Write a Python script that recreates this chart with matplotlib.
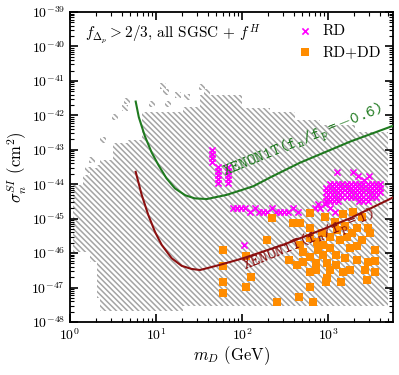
import matplotlib.pyplot as plt
from matplotlib.ticker import LogLocator, NullFormatter

plt.rcParams['mathtext.fontset'] = 'cm'
plt.rcParams['font.family'] = 'serif'
plt.rcParams['font.serif'] = ['cmr10']
plt.rcParams['axes.unicode_minus'] = False
plt.rcParams['axes.formatter.use_mathtext'] = True
plt.rcParams['hatch.linewidth'] = 1.1
# typewriter font for the limit labels (used through math_fontfamily='custom')
plt.rcParams['mathtext.rm'] = 'cmtt10'
plt.rcParams['mathtext.it'] = 'cmtt10'
plt.rcParams['mathtext.tt'] = 'cmtt10'

# scanned region (log10 m, log10 sigma), drawn as hatched columns
scan_logm_edges = [0.035, 0.151, 0.233, 0.314, 0.349, 0.50, 0.674, 0.837,
                   1.314, 1.512, 2.0, 2.326, 2.616, 2.907, 3.314, 3.698]
scan_logsig_top = [-44.02, -43.73, -43.53, -43.44, -43.30, -42.80, -42.72,
                   -41.90, -41.76, -41.41, -41.79, -41.90, -42.13, -42.28, -42.48]
scan_logsig_bot = [-45.97, -45.97, -46.26, -47.30, -47.68, -47.68, -47.68,
                   -47.68, -47.54, -47.54, -47.54, -47.54, -47.54, -47.54, -47.54]

# isolated scan cells above the main region
cell_logm = [1.081, 1.116, 1.256, 1.360, 0.663, 0.640, 0.953, 1.140,
             0.523, 0.384, 0.256, 0.209, 1.535, 1.593]
cell_logsig = [-41.15, -41.32, -41.41, -41.47, -41.58, -41.79, -41.67, -41.67,
               -42.05, -42.72, -43.30, -43.59, -41.18, -41.32]

# XENON1T limits
xe06_logm = [0.764, 0.80, 0.87, 0.95, 1.03, 1.12, 1.22, 1.34, 1.45, 1.59,
             1.82, 2.13, 2.33, 2.67, 3.26, 3.75]
xe06_logsig = [-41.60, -42.05, -42.60, -43.08, -43.45, -43.82, -44.12, -44.32,
               -44.41, -44.43, -44.31, -44.06, -43.80, -43.38, -42.76, -42.31]
xe1_logm = [0.764, 0.834, 0.910, 0.988, 1.066, 1.183, 1.299, 1.415, 1.512,
            1.744, 2.012, 2.477, 2.869, 3.256, 3.752]
xe1_logsig = [-43.64, -44.31, -44.89, -45.38, -45.76, -46.15, -46.37, -46.46,
              -46.49, -46.34, -46.15, -45.76, -45.38, -44.99, -44.39]

# RD points
rd_logm = ([1.651] * 4 + [1.721] * 5 + [1.843] * 5
           + [1.895, 1.942, 1.988, 2.035, 2.151, 2.349, 2.593, 2.849, 2.907, 3.023]
           + [2.093, 2.198, 2.244, 2.291, 2.395, 2.442, 2.488, 2.535, 2.651, 3.081]
           + [2.965, 2.884]
           + [3.023, 3.070, 3.116, 3.163, 3.221, 3.267, 3.314, 3.360, 3.407, 3.465, 3.512, 3.558, 3.605]
           + [2.977, 3.023, 3.070, 3.116, 3.163, 3.221, 3.267, 3.314, 3.360, 3.407, 3.465, 3.512, 3.558, 3.605]
           + [2.977, 3.023, 3.070, 3.116, 3.163, 3.221, 3.267, 3.314, 3.360, 3.407, 3.465, 3.512, 3.558, 3.605]
           + [2.977, 3.023, 3.070, 3.116, 3.163, 3.221, 3.267, 3.314, 3.360, 3.407, 3.465, 3.512, 3.558]
           + [2.977, 3.023, 3.070, 3.116, 3.360, 3.407, 3.465]
           + [3.105, 3.291, 3.349, 3.477, 3.419]
           + [2.029])
rd_logsig = ([-43.01, -43.12, -43.24, -43.35] + [-43.50, -43.61, -43.73, -43.85, -43.96] * 2
             + [-44.69] * 10 + [-44.81] * 10 + [-44.57] * 2
             + [-44.00] * 13 + [-44.12] * 14 + [-44.23] * 14 + [-44.37] * 13 + [-44.49] * 7
             + [-43.64, -43.64, -43.75, -43.75, -43.87]
             + [-45.76])

# RD+DD points
rdd_logm = [1.779, 1.779, 1.779, 1.779, 2.047, 2.047, 2.105, 2.291, 2.349, 2.407,
            2.547, 2.640, 2.663, 2.826, 2.791, 2.791, 2.977, 3.151, 2.593, 2.674,
            2.791, 2.965, 2.791, 2.674, 2.791, 2.942, 3.023, 3.140, 3.093, 2.791,
            2.988, 2.988, 3.174, 3.256, 3.256, 3.221, 3.337, 3.395, 3.291, 3.174,
            3.081, 3.488, 3.337, 3.547, 3.547, 3.547, 3.430, 3.453, 2.930, 3.279,
            3.465, 2.860, 3.337, 2.884, 3.093,
            2.709, 2.872, 3.023, 2.942, 2.860, 3.023, 3.198, 3.395, 3.465, 3.105,
            3.198, 2.709]
rdd_logsig = [-45.91, -46.37, -46.84, -47.16, -46.08, -46.98, -46.69, -45.62, -44.98, -47.42,
              -46.20, -46.34, -47.27, -47.42, -46.98, -46.55, -46.84, -46.84, -45.13, -45.13,
              -44.84, -44.95, -45.27, -45.76, -45.56, -45.76, -45.53, -45.62, -46.05, -46.11,
              -46.29, -46.72, -46.55, -46.49, -45.85, -45.53, -45.27, -44.95, -44.81, -44.86,
              -45.10, -45.42, -46.20, -45.91, -46.23, -46.55, -46.49, -46.78, -45.42, -45.42,
              -45.27, -46.29, -45.79, -45.91, -46.34,
              -45.97, -45.68, -45.85, -46.05, -46.49, -46.49, -46.14, -45.62, -46.26, -45.33,
              -45.21, -46.26]

gray = '#a4a4a4'
green = '#1f7a1f'
red = '#8b0f0f'
hatch = '\\' * 6

fig = plt.figure(figsize=(3.99, 3.75), dpi=100)
ax = fig.add_axes([0.1754, 0.1413, 0.8096, 0.8267])
ax.set_xscale('log')
ax.set_yscale('log')

for i in range(len(scan_logsig_top)):
    x0, x1 = 10 ** scan_logm_edges[i], 10 ** scan_logm_edges[i + 1]
    y0, y1 = 10 ** scan_logsig_bot[i], 10 ** scan_logsig_top[i]
    ax.bar(x0, y1 - y0, width=x1 - x0, bottom=y0, align='edge',
           facecolor='none', edgecolor=gray, lw=0, hatch=hatch, zorder=1)

for lm, ls in zip(cell_logm, cell_logsig):
    x0, x1 = 10 ** (lm - 0.035), 10 ** (lm + 0.035)
    y0, y1 = 10 ** (ls - 0.08), 10 ** (ls + 0.08)
    ax.bar(x0, y1 - y0, width=x1 - x0, bottom=y0, align='edge',
           facecolor='none', edgecolor=gray, lw=0, hatch=hatch, zorder=1)

ax.scatter([10 ** v for v in rd_logm], [10 ** v for v in rd_logsig],
           marker='x', color='magenta', s=20, linewidths=1.2, zorder=3, label='RD')
ax.scatter([10 ** v for v in rdd_logm], [10 ** v for v in rdd_logsig],
           marker='s', color='darkorange', s=30, linewidths=0, zorder=3, label='RD+DD')

ax.plot([10 ** v for v in xe06_logm], [10 ** v for v in xe06_logsig], color=green, lw=1.5, zorder=4)
ax.plot([10 ** v for v in xe1_logm], [10 ** v for v in xe1_logsig], color=red, lw=1.5, zorder=4)

ax.text(10 ** 2.71, 10 ** -42.77, r'$\mathrm{XENON1T(f_n/f_p{=}{-}0.6)}$', color=green,
        rotation=22, ha='center', va='center', fontsize=12, zorder=5, math_fontfamily='custom')
ax.text(10 ** 2.78, 10 ** -45.65, r'$\mathrm{XENON1T(f_n/f_p{=}1)}$', color=red,
        rotation=22, ha='center', va='center', fontsize=12, zorder=5, math_fontfamily='custom')

ax.text(0.046, 0.916, r'$f_{\Delta_p} > 2/3$, all SGSC + $f^H$', transform=ax.transAxes,
        fontsize=11, va='baseline', ha='left')

ax.set_xlim(1, 10 ** 3.756)
ax.set_ylim(1e-48, 1e-39)
ax.set_xlabel(r'$m_D$ (GeV)', fontsize=12, labelpad=1)
ax.set_ylabel(r'$\sigma_n^{SI}$ (cm$^2$)', fontsize=12, labelpad=2)

ax.xaxis.set_major_locator(LogLocator(base=10, numticks=20))
ax.xaxis.set_minor_locator(LogLocator(base=10, subs=range(2, 10), numticks=20))
ax.yaxis.set_major_locator(LogLocator(base=10, numticks=20))
ax.yaxis.set_minor_locator(LogLocator(base=10, subs=range(2, 10), numticks=20))
ax.xaxis.set_minor_formatter(NullFormatter())
ax.yaxis.set_minor_formatter(NullFormatter())
ax.tick_params(which='both', direction='in', top=True, right=True, labelsize=10)
ax.tick_params(which='major', length=6, width=1.2)
ax.tick_params(which='minor', length=3, width=0.8)
for s in ax.spines.values():
    s.set_linewidth(1.3)

ax.legend(loc='upper right', frameon=False, fontsize=11, handlelength=1.0,
          handletextpad=0.6, borderaxespad=0.4, labelspacing=0.5, scatterpoints=1)

fig.savefig('out.png', dpi=100)
